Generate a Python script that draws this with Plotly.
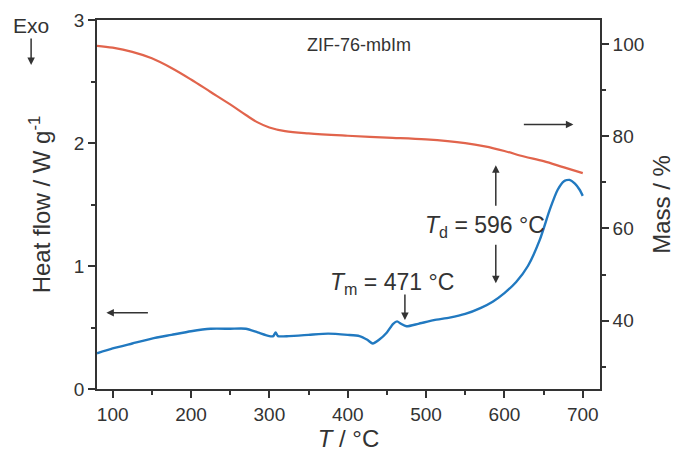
import plotly.graph_objects as go

# DSC (heat flow, left axis)
dsc_temp = [80, 100, 125, 150, 175, 200, 225, 250, 270, 285, 300, 305, 308, 311,
            325, 350, 375, 400, 415, 425, 432, 440, 450, 458, 463, 468, 475, 490,
            510, 530, 550, 570, 585, 600, 615, 630, 645, 658, 668, 676, 683, 690,
            696, 700]
dsc_heat = [0.29, 0.33, 0.37, 0.41, 0.44, 0.47, 0.49, 0.49, 0.49, 0.46, 0.43, 0.43,
            0.46, 0.43, 0.43, 0.44, 0.45, 0.44, 0.43, 0.40, 0.37, 0.40, 0.46, 0.53,
            0.55, 0.53, 0.51, 0.53, 0.56, 0.58, 0.61, 0.66, 0.71, 0.78, 0.87, 1.00,
            1.21, 1.46, 1.62, 1.69, 1.70, 1.67, 1.62, 1.57]

# TGA (mass, right axis)
tga_temp = [80, 100, 125, 150, 175, 200, 225, 250, 270, 285, 300, 320, 350, 400,
            450, 500, 550, 575, 600, 625, 650, 675, 700]
tga_mass = [99.6, 99.2, 98.3, 96.9, 94.8, 92.3, 89.6, 86.9, 84.6, 83.0, 81.9, 81.1,
            80.6, 80.1, 79.7, 79.3, 78.5, 77.8, 76.8, 75.6, 74.6, 73.3, 72.0]

x_ticks = [100, 200, 300, 400, 500, 600, 700]
y_ticks = [0, 1, 2, 3]
y2_ticks = [40, 60, 80, 100]

INK = "#333333"
FONT = "Liberation Sans, Arial, sans-serif"

fig = go.Figure()
fig.add_trace(go.Scatter(x=tga_temp, y=tga_mass, mode="lines", yaxis="y2",
                         line=dict(color="#e1644c", width=2.2, shape="spline"),
                         showlegend=False))
fig.add_trace(go.Scatter(x=dsc_temp, y=dsc_heat, mode="lines",
                         line=dict(color="#2179c0", width=2.4, shape="spline",
                                   smoothing=0.6),
                         showlegend=False))

axis_common = dict(showgrid=False, zeroline=False, showline=True, linecolor=INK,
                   linewidth=1.6, ticks="outside", ticklen=7, tickwidth=1.6,
                   tickcolor=INK, automargin=False,
                   tickfont=dict(size=19, color=INK, family=FONT))

# page body adds an 8 px margin, so the figure is sized 8 px smaller
fig.update_layout(
    width=679, height=457,
    margin=dict(l=89, r=87, t=12, b=76),
    paper_bgcolor="white", plot_bgcolor="white",
    font=dict(family=FONT, color=INK),
    xaxis=dict(**axis_common, range=[80, 722], tickvals=x_ticks, mirror=True,
               minor=dict(dtick=50, tick0=50, ticks="outside", ticklen=4,
                          tickwidth=1.6, tickcolor=INK),
               title=dict(text="<i>T</i> / °C", font=dict(size=24, color=INK),
                          standoff=6)),
    yaxis=dict(**axis_common, range=[0, 3], tickvals=y_ticks,
               minor=dict(dtick=0.5, tick0=0.5, ticks="outside", ticklen=4,
                          tickwidth=1.6, tickcolor=INK),
               title=dict(text="Heat flow / W g<sup>-1</sup>",
                          font=dict(size=24, color=INK), standoff=16)),
    yaxis2=dict(**axis_common, range=[25.2, 105.2], tickvals=y2_ticks,
                overlaying="y", side="right",
                minor=dict(dtick=10, tick0=30, ticks="outside", ticklen=4,
                           tickwidth=1.6, tickcolor=INK),
                title=dict(text="Mass / %", font=dict(size=24, color=INK),
                           standoff=10)),
)

arrow = dict(showarrow=True, arrowhead=2, arrowsize=1, arrowwidth=1.5,
             arrowcolor=INK, text="", axref="pixel", ayref="pixel")

# axis direction arrows
fig.add_annotation(x=92, y=0.62, ax=43, ay=0, **arrow)
fig.add_annotation(x=688, y=2.15, ax=-51, ay=0, **arrow)
# decomposition arrows
fig.add_annotation(x=589, y=1.82, ax=0, ay=42, **arrow)
fig.add_annotation(x=589, y=0.86, ax=0, ay=-40, **arrow)
# melting arrow
fig.add_annotation(x=473, y=0.56, ax=0, ay=-27, **arrow)
# Exo arrow
fig.add_annotation(xref="paper", yref="paper", x=-0.131, y=0.878,
                   ax=0, ay=-28, **arrow)

fig.add_annotation(xref="paper", yref="paper", x=-0.131, y=0.986,
                   xanchor="center", yanchor="middle", text="Exo",
                   showarrow=False, font=dict(size=21, color=INK))
fig.add_annotation(x=415, y=2.8, text="ZIF-76-mbIm", showarrow=False,
                   font=dict(size=18, color=INK))
fig.add_annotation(x=457, y=0.86, text="<i>T</i><sub>m</sub> = 471 °C",
                   showarrow=False, font=dict(size=23, color=INK))
fig.add_annotation(x=575, y=1.32, text="<i>T</i><sub>d</sub> = 596 °C",
                   showarrow=False, font=dict(size=23, color=INK))

fig.write_html("out.html")
